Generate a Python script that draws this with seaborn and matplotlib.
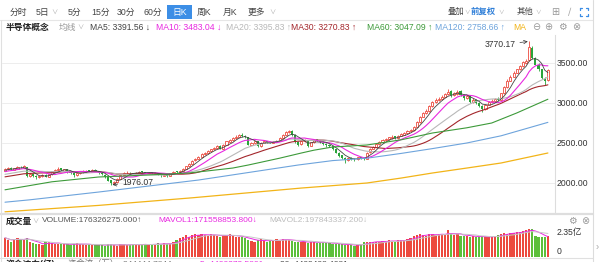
import numpy as np
import pandas as pd
import matplotlib
matplotlib.use("Agg")
import matplotlib.pyplot as plt
from matplotlib.lines import Line2D
from matplotlib.patches import Rectangle
import seaborn as sns

# ---------------- data ----------------
hist_close = [1980, 1990, 2000, 1995, 2010, 2005, 2020, 2015, 2030, 2040,
              2035, 2050, 2045, 2060, 2070, 2065, 2080, 2090, 2085, 2100,
              2110, 2105, 2120, 2130, 2125, 2140, 2150, 2145, 2160, 2165]

close = [2175, 2190, 2170, 2185, 2200, 2195, 2215, 2090, 2110, 2085,
         2075, 2090, 2100, 2080, 2110, 2150, 2165, 2180, 2160, 2170,
         2140, 2125, 2095, 2120, 2140, 2150, 2155, 2145, 2160, 2150,
         2120, 2110, 2070, 2030, 2000, 2010, 2050, 2100, 2125, 2130,
         2120, 2115, 2130, 2140, 2135, 2125, 2130, 2120, 2125, 2110,
         2095, 2100, 2090, 2120, 2140, 2135, 2150, 2180, 2210, 2240,
         2280, 2300, 2330, 2360, 2380, 2400, 2420, 2440, 2460, 2430,
         2480, 2520, 2540, 2560, 2580, 2600, 2590, 2570, 2480, 2500,
         2520, 2460, 2500, 2520, 2510, 2505, 2515, 2530, 2560, 2600,
         2640, 2650, 2600, 2510, 2480, 2520, 2530, 2460, 2510, 2540,
         2530, 2510, 2490, 2470, 2460, 2420, 2380, 2340, 2310, 2290,
         2310, 2300, 2295, 2320, 2310, 2305, 2380, 2430, 2450, 2490,
         2510, 2540, 2550, 2570, 2580, 2560, 2590, 2610, 2620, 2650,
         2660, 2700, 2760, 2830, 2870, 2900, 2960, 3010, 3040, 3050,
         3080, 3110, 3140, 3100, 3120, 3140, 3100, 3060, 3090, 3010,
         3040, 3000, 2960, 2920, 2980, 3010, 3030, 3050, 3040, 3120,
         3200, 3280, 3330, 3380, 3420, 3460, 3510, 3520, 3700, 3560,
         3480, 3420, 3310, 3280, 3410]

open_ = [2150, 2170, 2190, 2165, 2180, 2205, 2190, 2200, 2090, 2115,
         2090, 2070, 2085, 2105, 2075, 2110, 2145, 2160, 2185, 2155,
         2170, 2140, 2130, 2095, 2120, 2135, 2145, 2160, 2140, 2165,
         2150, 2125, 2105, 2070, 2035, 1995, 2010, 2050, 2100, 2120,
         2130, 2125, 2115, 2130, 2145, 2135, 2120, 2135, 2115, 2125,
         2110, 2090, 2105, 2090, 2120, 2145, 2135, 2150, 2180, 2210,
         2240, 2285, 2300, 2325, 2365, 2375, 2400, 2420, 2440, 2465,
         2430, 2475, 2515, 2540, 2560, 2575, 2605, 2590, 2570, 2480,
         2495, 2520, 2465, 2500, 2525, 2510, 2500, 2515, 2530, 2560,
         2600, 2640, 2655, 2600, 2515, 2485, 2520, 2530, 2465, 2510,
         2545, 2530, 2505, 2490, 2475, 2460, 2420, 2375, 2345, 2310,
         2290, 2315, 2305, 2295, 2325, 2310, 2305, 2385, 2430, 2455,
         2490, 2510, 2540, 2550, 2565, 2585, 2560, 2590, 2605, 2620,
         2650, 2660, 2700, 2760, 2830, 2875, 2900, 2960, 3010, 3040,
         3050, 3080, 3110, 3145, 3100, 3115, 3145, 3100, 3060, 3090,
         3010, 3040, 3000, 2960, 2925, 2980, 3010, 3030, 3055, 3040,
         3120, 3200, 3280, 3330, 3380, 3420, 3460, 3505, 3540, 3690,
         3560, 3480, 3420, 3300, 3290]

high = [2185, 2200, 2195, 2190, 2210, 2215, 2230, 2205, 2120, 2120,
        2095, 2100, 2110, 2110, 2115, 2155, 2175, 2195, 2190, 2180,
        2175, 2150, 2135, 2125, 2150, 2160, 2165, 2165, 2170, 2170,
        2155, 2130, 2110, 2075, 2040, 2020, 2060, 2105, 2135, 2145,
        2140, 2130, 2135, 2150, 2150, 2140, 2140, 2140, 2135, 2130,
        2115, 2110, 2110, 2125, 2150, 2155, 2160, 2185, 2215, 2250,
        2290, 2315, 2340, 2370, 2390, 2410, 2430, 2450, 2470, 2470,
        2490, 2530, 2550, 2575, 2595, 2615, 2620, 2600, 2575, 2515,
        2530, 2525, 2510, 2530, 2530, 2520, 2525, 2540, 2570, 2610,
        2650, 2665, 2660, 2610, 2520, 2530, 2545, 2535, 2515, 2550,
        2555, 2540, 2515, 2500, 2485, 2465, 2425, 2385, 2350, 2320,
        2320, 2325, 2310, 2330, 2330, 2315, 2390, 2440, 2460, 2500,
        2520, 2550, 2565, 2580, 2595, 2590, 2600, 2620, 2635, 2660,
        2675, 2710, 2770, 2840, 2885, 2920, 2970, 3020, 3060, 3080,
        3095, 3125, 3170, 3160, 3140, 3165, 3160, 3110, 3100, 3100,
        3060, 3050, 3010, 2970, 2990, 3025, 3045, 3065, 3070, 3130,
        3210, 3300, 3345, 3395, 3430, 3475, 3530, 3545, 3770.17, 3710,
        3580, 3500, 3430, 3320, 3420]

low = [2145, 2160, 2160, 2160, 2175, 2185, 2185, 2080, 2075, 2075,
       2050, 2060, 2080, 2070, 2070, 2105, 2140, 2155, 2150, 2145,
       2130, 2115, 2080, 2090, 2115, 2130, 2140, 2135, 2135, 2145,
       2110, 2100, 2060, 2020, 1976.07, 1990, 2005, 2045, 2095, 2115,
       2110, 2105, 2110, 2125, 2130, 2115, 2115, 2115, 2110, 2100,
       2080, 2085, 2075, 2085, 2115, 2125, 2130, 2145, 2175, 2205,
       2235, 2275, 2295, 2320, 2355, 2365, 2390, 2410, 2430, 2420,
       2425, 2470, 2510, 2530, 2550, 2570, 2580, 2560, 2470, 2470,
       2490, 2445, 2455, 2495, 2500, 2495, 2495, 2510, 2525, 2555,
       2595, 2630, 2590, 2500, 2460, 2475, 2510, 2450, 2460, 2505,
       2520, 2500, 2480, 2455, 2445, 2410, 2370, 2330, 2300, 2250,
       2280, 2290, 2280, 2290, 2300, 2290, 2300, 2375, 2420, 2450,
       2480, 2505, 2530, 2540, 2555, 2550, 2555, 2585, 2600, 2615,
       2640, 2650, 2695, 2750, 2820, 2860, 2890, 2950, 3000, 3020,
       3040, 3070, 3100, 3080, 3090, 3105, 3090, 3040, 3050, 3000,
       3000, 2990, 2950, 2890, 2915, 2970, 3000, 3020, 3030, 3035,
       3110, 3190, 3270, 3320, 3370, 3410, 3450, 3490, 3530, 3550,
       3470, 3400, 3300, 3225, 3280]

# volume in 亿 (1e8)
volume = [1.62, 1.43, 1.28, 1.51, 1.57, 1.51, 1.43, 1.60, 1.28, 1.15,
          1.10, 1.05, 1.00, 1.28, 1.28, 1.15, 1.10, 1.05, 1.15, 1.05,
          1.05, 1.00, 1.10, 1.15, 1.10, 1.05, 1.00, 1.05, 1.00, 1.05,
          1.00, 1.00, 0.95, 1.05, 1.10, 1.00, 0.95, 1.05, 1.10, 1.00,
          1.00, 1.10, 1.05, 1.00, 1.05, 1.10, 1.00, 1.10, 1.05, 1.15,
          1.10, 1.15, 1.10, 1.10, 1.28, 1.43, 1.57, 1.70, 1.85, 1.70,
          1.85, 1.90, 1.85, 1.90, 1.85, 1.80, 1.90, 1.85, 1.80, 1.70,
          1.80, 1.85, 1.90, 1.75, 1.70, 1.65, 1.70, 1.57, 1.43, 1.35,
          1.28, 1.43, 1.50, 1.35, 1.28, 1.35, 1.43, 1.50, 1.43, 1.50,
          1.45, 1.40, 1.35, 1.30, 1.25, 1.30, 1.25, 1.20, 1.30, 1.25,
          1.20, 1.15, 1.25, 1.20, 1.15, 1.10, 1.05, 1.10, 1.05, 1.00,
          1.05, 1.00, 0.95, 1.00, 1.05, 1.25, 1.30, 1.25, 1.30, 1.25,
          1.30, 1.35, 1.30, 1.40, 1.35, 1.30, 1.40, 1.45, 1.40, 1.50,
          1.60, 1.75, 1.85, 1.90, 1.85, 1.80, 1.90, 1.95, 1.85, 1.90,
          1.95, 1.85, 2.25, 1.90, 1.85, 1.95, 1.80, 1.75, 1.80, 1.70,
          1.75, 1.70, 1.65, 1.75, 1.70, 1.65, 1.70, 1.75, 1.85, 1.95,
          2.00, 1.95, 2.05, 2.00, 2.10, 2.10, 2.20, 2.25, 2.35, 2.31,
          1.80, 1.70, 1.65, 1.66, 1.76]

# long moving averages (candle index, value)
ma60_idx = [0, 15, 30, 46, 59, 73, 78, 88, 95, 99, 105, 116, 127, 137, 148, 156, 164, 174]
ma60_val = [1915, 2015, 2075, 2100, 2125, 2187, 2225, 2310, 2375, 2410, 2450, 2475, 2540, 2625, 2690, 2750, 2875, 3047]
ma120_idx = [0, 8, 30, 62, 94, 105, 116, 127, 137, 148, 159, 174]
ma120_val = [1760, 1790, 1887, 2037, 2225, 2280, 2310, 2370, 2430, 2500, 2590, 2758]
ma250_idx = [0, 30, 60, 95, 116, 127, 137, 148, 159, 174]
ma250_val = [1640, 1720, 1815, 1937, 2000, 2062, 2125, 2187, 2250, 2375]

price_ticks = [3500, 3000, 2500, 2000]
price_labels = ["3500.00", "3000.00", "2500.00", "2000.00"]

toolbar_items = ["分时", "5日", "5分", "15分", "30分", "60分", "日K", "周K", "月K", "更多"]
ma_labels = ["MA5: 3391.56 ↓", "MA10: 3483.04 ↓", "MA20: 3395.83 ↑",
             "MA30: 3270.83 ↑", "MA60: 3047.09 ↑", "MA120: 2758.66 ↑", "MA"]
vol_labels = ["VOLUME:176326275.000↑", "MAVOL1:171558853.800↓", "MAVOL2:197843337.200↓"]

# ---------------- styling ----------------
RED = "#ec4a3e"
GREEN = "#2aa43a"
VGREEN = "#5cbf3a"
C_MA5 = "#444444"
C_MA10 = "#e829e0"
C_MA20 = "#b8b8b8"
C_MA30 = "#a3262b"
C_MA60 = "#3d9a3a"
C_MA120 = "#6ea4dc"
C_MA250 = "#f2b418"

sns.set_theme(style="white")
plt.rcParams['font.family'] = ['Liberation Sans', 'Noto Sans CJK SC', 'DejaVu Sans']

W, H = 600, 262
fig = plt.figure(figsize=(6, 2.62), dpi=100)
fig.patch.set_facecolor("white")


def fx(px):
    return px / W


def fy(py):
    return 1 - py / H


def hline(y, x0, x1, color="#e4e4e4", lw=0.8):
    fig.add_artist(Line2D([fx(x0), fx(x1)], [fy(y), fy(y)], color=color, lw=lw))


def vline(x, y0, y1, color="#e4e4e4", lw=0.8):
    fig.add_artist(Line2D([fx(x), fx(x)], [fy(y0), fy(y1)], color=color, lw=lw))


n = len(close)
idx = np.arange(n)
o = np.array(open_, float)
c = np.array(close, float)
hi = np.array(high, float)
lo = np.array(low, float)
up = c >= o

X0, X1 = -0.96, 176.28

# ---------------- main price axes ----------------
ax = fig.add_axes([fx(2), fy(213), (555 - 2) / W, (213 - 35) / H])
ax.set_xlim(X0, X1)
ax.set_ylim(1625, 3850)
for t in price_ticks:
    ax.axhline(t, color="#ededed", lw=0.7, zorder=0)

col = np.where(up, RED, GREEN)
ax.vlines(idx, lo, hi, colors=col, lw=0.6, zorder=2)
bh = np.maximum(np.abs(c - o), 8)
bb = np.minimum(o, c)
ax.bar(idx[up], bh[up], bottom=bb[up], width=0.66, facecolor="white",
       edgecolor=RED, linewidth=0.6, zorder=3)
ax.bar(idx[~up], bh[~up], bottom=bb[~up], width=0.66, color=GREEN,
       linewidth=0, zorder=3)

full = pd.Series(hist_close + close, dtype=float)
k0 = len(hist_close)
for win, colr, lw in [(30, C_MA30, 0.8), (20, C_MA20, 0.8), (10, C_MA10, 0.8), (5, C_MA5, 0.6)]:
    ma = full.rolling(win, min_periods=1).mean().iloc[k0:].values
    sns.lineplot(x=idx, y=ma, ax=ax, color=colr, lw=lw, zorder=4)
sns.lineplot(x=ma60_idx, y=ma60_val, ax=ax, color=C_MA60, lw=0.8, zorder=4)
sns.lineplot(x=ma120_idx, y=ma120_val, ax=ax, color=C_MA120, lw=0.8, zorder=4)
sns.lineplot(x=ma250_idx, y=ma250_val, ax=ax, color=C_MA250, lw=0.9, zorder=4)

imax = int(np.argmax(hi))
imin = int(np.argmin(lo))
ax.annotate(f"{hi[imax]:.2f}", xy=(imax, hi[imax]), xytext=(-10, -2.5),
            textcoords="offset points", ha="right", va="center", fontsize=6.2,
            color="#333333", arrowprops=dict(arrowstyle="->", color="#333333", lw=0.5,
                                              shrinkA=1, shrinkB=1))
ax.annotate(f"{lo[imin]:.2f}", xy=(imin, lo[imin]), xytext=(8, 2),
            textcoords="offset points", ha="left", va="center", fontsize=6.2,
            color="#333333", arrowprops=dict(arrowstyle="->", color="#333333", lw=0.5,
                                              shrinkA=1, shrinkB=1))
ax.set_xticks([])
ax.set_yticks([])
ax.set_xlabel("")
ax.set_ylabel("")
for s in ["top", "left", "bottom"]:
    ax.spines[s].set_visible(False)
ax.spines["right"].set_color("#dddddd")
ax.spines["right"].set_linewidth(0.8)

for t, lab in zip(price_ticks, price_labels):
    py = 63 + (3500 - t) / 12.5
    fig.text(fx(557), fy(py), lab, fontsize=6.2, color="#333333", va="center", ha="left")

# ---------------- volume axes ----------------
axv = fig.add_axes([fx(2), fy(257), (555 - 2) / W, 30 / H])
vdf = pd.DataFrame({"i": idx, "vol": volume, "dir": np.where(up, "up", "down")})
sns.barplot(data=vdf, x="i", y="vol", hue="dir", palette={"up": RED, "down": VGREEN},
            dodge=False, width=0.72, saturation=1, legend=False, ax=axv, linewidth=0)
vs = pd.Series(volume)
sns.lineplot(x=idx, y=vs.rolling(5, min_periods=1).mean().values, ax=axv,
             color=C_MA10, lw=0.7)
sns.lineplot(x=idx, y=vs.rolling(10, min_periods=1).mean().values, ax=axv,
             color="#c8c8c8", lw=0.7)
axv.set_xlim(X0, X1)
axv.set_ylim(0, 2.35 * 30 / 28)
axv.set_xticks([])
axv.set_yticks([])
axv.set_xlabel("")
axv.set_ylabel("")
for s in ["top", "left", "bottom", "right"]:
    axv.spines[s].set_visible(False)
fig.text(fx(557), fy(232), "2.35亿", fontsize=6.2, color="#333333", va="center")
fig.text(fx(557), fy(251), "0", fontsize=6.2, color="#333333", va="center")

# ---------------- frame lines ----------------
hline(20, 0, 593, "#e6e6e6")
hline(214, 0, 593, "#dedede", 1.6)
hline(258, 0, 593, "#e0e0e0", 0.8)
vline(1, 20, 262, "#e0e0e0")
vline(593, 0, 262, "#dcdcdc")
fig.text(fx(597), fy(247), "›", fontsize=7, color="#aaaaaa", va="center", ha="center")

# ---------------- toolbar ----------------
tb_x = [10, 36, 68, 91, 117, 144, 172, 197, 223, 248]
fig.add_artist(Rectangle((fx(167), fy(19)), (192 - 167) / W, 14 / H,
                         facecolor="#3c8ee6", edgecolor="none"))
for xx, t in zip(tb_x, toolbar_items):
    fig.text(fx(xx), fy(12), t, fontsize=6.3, va="center", ha="left",
             color="white" if t == "日K" else "#444444")
for xx in [54, 272]:
    fig.text(fx(xx), fy(12), "∨", fontsize=4.5, va="center", ha="center", color="#aaaaaa")
fig.text(fx(448), fy(12), "叠加", fontsize=6.0, va="center", color="#444444")
fig.text(fx(467.5), fy(12), "∨", fontsize=4.0, va="center", ha="center", color="#aaaaaa")
fig.text(fx(471), fy(12), "前复权", fontsize=6.0, va="center", color="#2f7fd8", fontweight="bold")
fig.text(fx(501), fy(12), "∨", fontsize=4.0, va="center", ha="center", color="#aaaaaa")
fig.text(fx(517), fy(12), "其他", fontsize=6.0, va="center", color="#444444")
fig.text(fx(538), fy(12), "∨", fontsize=4.0, va="center", ha="center", color="#aaaaaa")
fig.text(fx(555), fy(12), "⊞", fontsize=7, va="center", ha="center", color="#999999",
         family=["DejaVu Sans"])
fig.text(fx(570), fy(12), "∕", fontsize=7, va="center", ha="center", color="#aaaaaa",
         family=["DejaVu Sans"])
# full-screen icon: four small blue corner marks
cx, cy, r, a = 584, 12, 4.0, 2.0
for sx in (-1, 1):
    for sy in (-1, 1):
        x0, y0 = cx + sx * r, cy + sy * r
        fig.add_artist(Line2D([fx(x0), fx(x0 - sx * a)], [fy(y0), fy(y0)], color="#3c8ee6", lw=0.9))
        fig.add_artist(Line2D([fx(x0), fx(x0)], [fy(y0), fy(y0 - sy * a)], color="#3c8ee6", lw=0.9))

# ---------------- MA legend row ----------------
fig.text(fx(6), fy(27), "半导体概念", fontsize=6.3, va="center", color="#222222", fontweight="bold")
fig.text(fx(59), fy(27), "均线", fontsize=6.3, va="center", color="#999999")
fig.text(fx(80), fy(27), "∨", fontsize=4.5, va="center", ha="center", color="#aaaaaa")
ma_x = [90, 156, 226, 291, 367, 435, 513]
ma_c = [C_MA5, C_MA10, C_MA20, C_MA30, C_MA60, C_MA120, C_MA250]
for xx, t, cc in zip(ma_x, ma_labels, ma_c):
    fig.text(fx(xx), fy(27), t, fontsize=6.2, va="center", color=cc)
for xx, g in zip([536, 548, 562, 576], ["⊖", "⊕", "⚙", "⊗"]):
    fig.text(fx(xx), fy(27), g, fontsize=7, va="center", ha="center", color="#9a9a9a",
             family=["DejaVu Sans"])

# ---------------- volume header ----------------
fig.text(fx(6), fy(221), "成交量", fontsize=6.3, va="center", color="#222222", fontweight="bold")
fig.text(fx(35), fy(221), "∨", fontsize=4.5, va="center", ha="center", color="#aaaaaa")
for xx, t, cc in zip([42, 158, 269], vol_labels, ["#555555", C_MA10, "#bdbdbd"]):
    fig.text(fx(xx), fy(221), t, fontsize=6.0, va="center", color=cc)
for xx, g in zip([572, 585], ["⚙", "⊗"]):
    fig.text(fx(xx), fy(221), g, fontsize=7, va="center", ha="center", color="#9a9a9a",
             family=["DejaVu Sans"])

# ---------------- next panel header (cut off by the screenshot edge) ----------------
fig.text(fx(6), fy(264), "资金流向(亿)", fontsize=6.3, va="center", color="#222222", fontweight="bold")
fig.text(fx(68), fy(264), "资金流（万）: 344444.7844", fontsize=6.0, va="center", color="#777777")
fig.text(fx(200), fy(264), "5: 4400273.5801", fontsize=6.0, va="center", color=C_MA10)
fig.text(fx(280), fy(264), "20: 4409408.4081", fontsize=6.0, va="center", color="#444444")

fig.savefig("out.png", dpi=100)
